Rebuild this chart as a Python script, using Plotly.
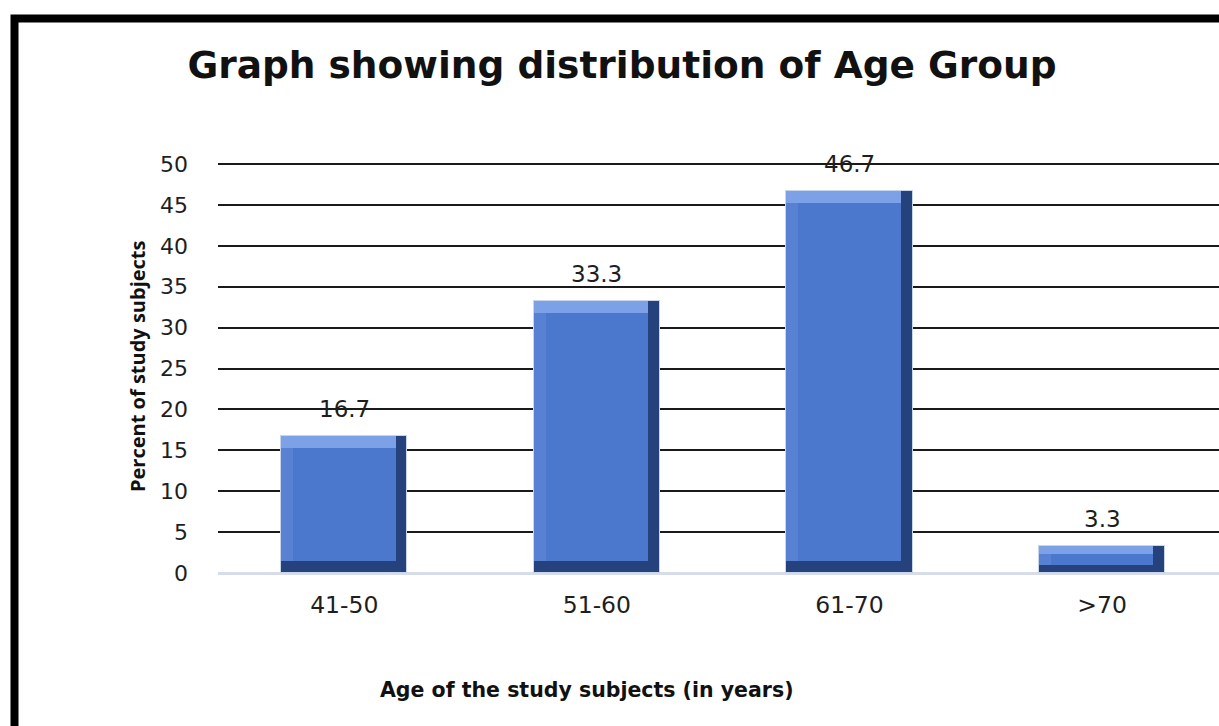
import plotly.graph_objects as go

# Age groups and the share of study subjects in each (percent)
age_groups = ["41-50", "51-60", "61-70", ">70"]
percent_subjects = [16.7, 33.3, 46.7, 3.3]
y_ticks = [0, 5, 10, 15, 20, 25, 30, 35, 40, 45, 50]

WIDE = "DejaVu Sans"
NARROW = "Liberation Sans Narrow, Arial Narrow, Open Sans"
TEXT = "#1e1e1e"

# Bevelled bar look built from stacked overlay layers
BAR_W = 0.5
EDGE_X = 0.047   # bevel width in category units
EDGE_Y = 1.45    # bevel height in value units

shell_col = "#26427c"   # right / bottom bevel
left_col = "#5881d3"    # left bevel
top_col = "#7da1e6"     # top bevel
face_col = "#4b77cc"    # flat face

idx = list(range(len(age_groups)))
eh = [min(EDGE_Y, v * 0.3) for v in percent_subjects]

fig = go.Figure()

fig.add_trace(go.Bar(
    x=idx, y=percent_subjects, width=BAR_W, offset=-BAR_W / 2,
    marker=dict(color=shell_col, line=dict(width=1, color="#c9d5ea")),
    hoverinfo="skip", showlegend=False,
))
fig.add_trace(go.Bar(
    x=idx, y=[v - e for v, e in zip(percent_subjects, eh)], base=eh,
    width=BAR_W - EDGE_X, offset=-BAR_W / 2,
    marker=dict(color=left_col, line=dict(width=0)),
    hoverinfo="skip", showlegend=False,
))
fig.add_trace(go.Bar(
    x=idx, y=eh, base=[v - e for v, e in zip(percent_subjects, eh)],
    width=BAR_W - EDGE_X, offset=-BAR_W / 2,
    marker=dict(color=top_col, line=dict(width=0)),
    hoverinfo="skip", showlegend=False,
))
fig.add_trace(go.Bar(
    x=idx, y=[v - 2 * e for v, e in zip(percent_subjects, eh)], base=eh,
    width=BAR_W - 2 * EDGE_X, offset=-BAR_W / 2 + EDGE_X,
    marker=dict(color=face_col, line=dict(width=0)),
    hovertemplate="%{customdata}: %{text}%<extra></extra>",
    customdata=age_groups, text=[f"{v}" for v in percent_subjects],
    textposition="none", showlegend=False,
))

# value labels above the bars
for i, v in zip(idx, percent_subjects):
    fig.add_annotation(
        x=i, y=v, text=f"{v}", showarrow=False, yshift=27,
        xanchor="center", yanchor="middle",
        font=dict(family=WIDE, size=23, color=TEXT),
    )

# axis titles
fig.add_annotation(
    xref="paper", yref="paper", x=(137 - 218) / 1001, y=(573 - 366) / 413,
    xanchor="center", yanchor="middle",
    text="<b>Percent of study subjects</b>", textangle=-90, showarrow=False,
    font=dict(family=NARROW, size=20, color="#111111"),
)
fig.add_annotation(
    xref="paper", yref="paper", x=(587 - 218) / 1001, y=(573 - 690) / 413,
    xanchor="center", yanchor="middle",
    text="<b>Age of the study subjects (in years)</b>", showarrow=False,
    font=dict(family=WIDE, size=20.5, color="#111111"),
)

# black frame around the chart
fig.add_shape(
    type="rect", xref="paper", yref="paper",
    x0=(14.5 - 218) / 1001, x1=1.2, y0=-0.6, y1=(573 - 18.5) / 413,
    line=dict(color="black", width=8), fillcolor="rgba(0,0,0,0)", layer="above",
)

fig.update_layout(
    width=1219, height=726,
    margin=dict(l=218, r=0, t=160, b=153),
    paper_bgcolor="white", plot_bgcolor="white",
    barmode="overlay", bargap=0,
    title=dict(
        text="<b>Graph showing distribution of Age Group</b>",
        x=622 / 1219, xref="container", xanchor="center",
        y=1 - 65 / 726, yref="container", yanchor="middle",
        font=dict(family=WIDE, size=37.5, color="#111111"),
    ),
    xaxis=dict(
        range=[-0.5, 3.463], tickmode="array", tickvals=idx, ticktext=age_groups,
        showgrid=False, zeroline=False, showline=False, ticks="",
        ticklabelstandoff=15,
        tickfont=dict(family=WIDE, size=23.5, color=TEXT),
        fixedrange=True,
    ),
    yaxis=dict(
        range=[0, 50.5], tickmode="array", tickvals=y_ticks,
        showgrid=True, gridcolor="#1a1a1a", gridwidth=2,
        zeroline=True, zerolinecolor="#d6dde8", zerolinewidth=3,
        showline=False, ticks="", ticklabelstandoff=29,
        tickfont=dict(family=WIDE, size=22, color=TEXT),
        fixedrange=True,
    ),
)

fig.write_html("out.html")
